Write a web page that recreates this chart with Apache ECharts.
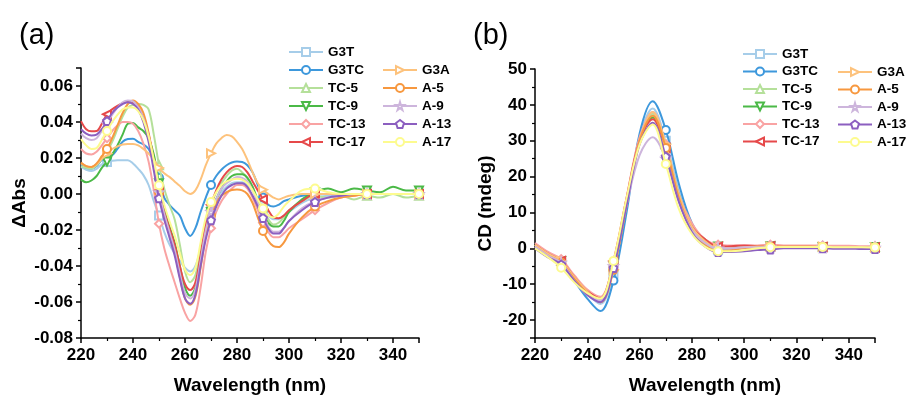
<!DOCTYPE html>
<html><head><meta charset="utf-8">
<script src="https://cdn.jsdelivr.net/npm/echarts@6/dist/echarts.min.js"></script>
<style>html,body{margin:0;padding:0;background:#fff}#c{width:908px;height:400px}</style>
</head><body><div id="c"></div>
<script>
// ---------- DATA ----------
const wavelengthA = [220,222,224,226,228,230,232,234,236,238,240,242,244,246,248,250,252,254,256,258,260,262,264,266,268,270,272,274,276,278,280,282,284,286,288,290,292,294,296,298,300,305,310,315,320,325,330,335,340,345,350];
const wavelengthB = [220,225,230,235,240,245,250,255,260,265,270,275,280,285,290,295,300,305,310,315,320,325,330,335,340,345,350];
const markerWavelengths = [230,250,270,290,310,330,350];
const seriesNames = ['G3T','G3TC','TC-5','TC-9','TC-13','TC-17','G3A','A-5','A-9','A-13','A-17'];
const legendCol1 = ['G3T','G3TC','TC-5','TC-9','TC-13','TC-17'];
const legendCol2 = ['G3A','A-5','A-9','A-13','A-17'];

// Panel (a): ΔAbs
const absG3T  = [0.015,0.0135,0.0128,0.014,0.0165,0.0178,0.0185,0.0188,0.0188,0.0188,0.017,0.014,0.0105,0.005,-0.004,-0.012,-0.021,-0.028,-0.033,-0.037,-0.041,-0.043,-0.040,-0.030,-0.018,-0.009,-0.003,0.001,0.004,0.006,0.0065,0.0065,0.005,0.002,-0.003,-0.008,-0.012,-0.014,-0.014,-0.012,-0.010,-0.005,-0.002,-0.001,0.000,0.000,0.000,0.000,0.000,0.000,0.000];
const absG3TC = [0.016,0.0145,0.014,0.0155,0.019,0.0205,0.0215,0.025,0.029,0.0305,0.0307,0.029,0.0275,0.025,0.019,0.009,-0.002,-0.006,-0.009,-0.012,-0.019,-0.0233,-0.019,-0.010,-0.002,0.005,0.010,0.0135,0.016,0.0175,0.018,0.0178,0.016,0.012,0.005,-0.002,-0.006,-0.007,-0.006,-0.004,-0.003,-0.001,0.000,0.000,0.000,0.000,0.000,0.000,0.000,0.000,0.000];
const absTC5  = [0.0155,0.0145,0.014,0.016,0.0195,0.0235,0.029,0.036,0.043,0.048,0.0495,0.050,0.0495,0.047,0.033,0.016,0.003,-0.006,-0.014,-0.028,-0.043,-0.049,-0.045,-0.032,-0.016,-0.006,0.001,0.006,0.010,0.013,0.014,0.012,0.009,0.004,-0.003,-0.009,-0.014,-0.017,-0.016,-0.013,-0.009,-0.004,-0.001,-0.002,-0.001,-0.003,-0.001,-0.002,0.000,-0.002,-0.001];
const absTC9  = [0.008,0.0065,0.0075,0.010,0.0145,0.018,0.022,0.027,0.033,0.039,0.0395,0.037,0.035,0.031,0.022,0.006,-0.008,-0.018,-0.027,-0.040,-0.052,-0.0565,-0.052,-0.036,-0.020,-0.010,-0.003,0.003,0.007,0.010,0.011,0.011,0.009,0.004,-0.004,-0.011,-0.016,-0.018,-0.018,-0.015,-0.010,-0.003,0.001,0.003,0.001,0.003,0.002,0.001,0.004,0.002,0.002];
const absTC13 = [0.025,0.0225,0.022,0.0235,0.027,0.031,0.035,0.038,0.040,0.040,0.039,0.035,0.028,0.018,0.002,-0.0165,-0.030,-0.040,-0.049,-0.058,-0.066,-0.0705,-0.067,-0.052,-0.032,-0.019,-0.010,-0.004,0.000,0.003,0.005,0.005,0.003,-0.002,-0.009,-0.016,-0.021,-0.024,-0.024,-0.022,-0.019,-0.014,-0.009,-0.005,-0.002,-0.001,0.000,0.000,0.000,0.000,0.000];
const absTC17 = [0.0405,0.036,0.0348,0.035,0.039,0.0443,0.047,0.049,0.0505,0.0515,0.051,0.048,0.042,0.033,0.018,0.002,-0.010,-0.019,-0.028,-0.040,-0.050,-0.0533,-0.049,-0.034,-0.016,-0.006,0.002,0.008,0.012,0.0145,0.0155,0.015,0.012,0.007,0.002,-0.003,-0.009,-0.013,-0.0135,-0.012,-0.009,-0.004,0.000,0.000,0.000,0.000,0.000,0.000,0.000,0.000,0.000];
const absG3A  = [0.017,0.0155,0.015,0.0165,0.0195,0.0225,0.025,0.0265,0.0275,0.0278,0.0278,0.027,0.025,0.0225,0.019,0.0145,0.0115,0.0095,0.007,0.0045,0.0015,0.000,0.002,0.008,0.016,0.0226,0.028,0.031,0.0328,0.032,0.029,0.025,0.019,0.012,0.006,0.0024,0.000,-0.002,-0.003,-0.002,-0.001,0.000,0.000,0.000,0.000,0.000,0.000,0.000,0.000,0.000,0.000];
const absA5   = [0.0175,0.0155,0.015,0.017,0.021,0.025,0.031,0.038,0.045,0.050,0.052,0.050,0.045,0.034,0.018,0.001,-0.012,-0.022,-0.032,-0.046,-0.058,-0.0615,-0.057,-0.041,-0.023,-0.012,-0.005,-0.001,0.001,0.0022,0.0025,0.002,0.000,-0.005,-0.013,-0.0205,-0.026,-0.029,-0.0295,-0.027,-0.022,-0.013,-0.007,-0.004,-0.002,-0.001,0.000,0.000,0.000,0.000,0.000];
const absA9   = [0.0335,0.031,0.030,0.031,0.035,0.039,0.044,0.048,0.051,0.052,0.0515,0.048,0.042,0.032,0.017,0.001,-0.011,-0.021,-0.031,-0.044,-0.055,-0.058,-0.053,-0.037,-0.020,-0.010,-0.003,0.003,0.006,0.008,0.0095,0.009,0.007,0.002,-0.005,-0.012,-0.018,-0.021,-0.021,-0.019,-0.015,-0.008,-0.004,-0.002,-0.001,0.000,0.000,0.000,0.000,0.000,0.000];
const absA13  = [0.036,0.0335,0.0325,0.033,0.036,0.0405,0.045,0.048,0.050,0.051,0.050,0.047,0.040,0.029,0.013,-0.0024,-0.014,-0.024,-0.034,-0.047,-0.058,-0.061,-0.056,-0.040,-0.025,-0.0146,-0.007,-0.001,0.003,0.005,0.006,0.006,0.004,-0.001,-0.007,-0.0133,-0.019,-0.022,-0.022,-0.019,-0.015,-0.009,-0.0044,-0.002,-0.001,0.000,0.000,0.000,0.000,0.000,0.000];
const absA17  = [0.0305,0.027,0.025,0.0255,0.030,0.035,0.040,0.044,0.047,0.048,0.048,0.046,0.041,0.032,0.019,0.0049,-0.006,-0.015,-0.023,-0.033,-0.042,-0.045,-0.041,-0.027,-0.013,-0.0045,0.001,0.005,0.007,0.008,0.0085,0.008,0.006,0.002,-0.003,-0.008,-0.012,-0.013,-0.011,-0.007,-0.004,0.002,0.003,0.001,0.000,0.000,0.000,0.000,0.000,0.000,0.000];

// Panel (b): CD (mdeg)
const cdG3T  = [1,-1.5,-3.5,-8,-12.5,-15.5,-7,12,31,39,30,16,6,1.5,-0.5,0,0.3,0.4,0.5,0.4,0.4,0.3,0.3,0.3,0.2,0.2,0.2];
const cdG3TC = [0.5,-2,-4,-9,-14,-17.5,-9,10,32,41,33,18,7,2,0,0,0.3,0.3,0.4,0.3,0.3,0.3,0.2,0.2,0.2,0.2,0.1];
const cdTC5  = [1,-1.5,-3.5,-8,-12,-14.5,-5,13,30,37.5,29,15,6,2,0,0.3,0.5,0.5,0.6,0.5,0.5,0.5,0.5,0.4,0.4,0.4,0.4];
const cdTC9  = [1,-1.5,-3.5,-8,-12,-14,-5,13,30,36.5,28,15,6,2.5,0.5,0.5,0.5,0.5,0.6,0.5,0.5,0.5,0.4,0.4,0.4,0.4,0.4];
const cdTC13 = [1.5,-1,-3,-7.5,-11.5,-13.5,-4,14,31,38,29,15,7,2.5,1,0.8,0.8,0.8,1,0.8,0.8,0.8,0.8,0.7,0.7,0.6,0.6];
const cdTC17 = [1,-1.5,-3.5,-8,-12,-14,-3.5,14,30,36,28,14,6,2.5,0.5,0.6,0.8,0.6,0.6,0.5,0.5,0.5,0.4,0.4,0.4,0.4,0.3];
const cdG3A  = [1,-1.5,-3.5,-8,-12,-15,-6,12,30,38,29,15,6,2,0,0,0.3,0.5,0.5,0.5,0.5,0.5,0.5,0.4,0.4,0.4,0.3];
const cdA5   = [0.5,-2,-4,-8.5,-12.5,-15,-6,12,30,37,28,14,5,1,-0.8,-0.5,0,0.2,0.3,0.3,0.3,0.3,0.2,0.2,0.2,0.2,0.1];
const cdA9   = [0.5,-2,-4,-9,-13,-14.5,-5,12,26,31,25,13,5,1.5,0,0,0.3,0.3,0.3,0.3,0.3,0.3,0.3,0.2,0.2,0.2,0.2];
const cdA13  = [0,-2.5,-4.5,-9,-13,-15,-5.5,12,29,35,25.6,13,4.5,0.5,-1,-1,-0.8,-0.5,-0.3,0,0,0,0,-0.1,-0.1,-0.2,-0.2];
const cdA17  = [0,-2.5,-5.4,-9.5,-12.5,-14,-3.5,14,29,34.5,23.5,11,4,0.5,-0.8,-0.8,-0.5,0,0.3,0.4,0.4,0.4,0.4,0.3,0.3,0.3,0.2];

const absData = [absG3T,absG3TC,absTC5,absTC9,absTC13,absTC17,absG3A,absA5,absA9,absA13,absA17];
const cdData  = [cdG3T,cdG3TC,cdTC5,cdTC9,cdTC13,cdTC17,cdG3A,cdA5,cdA9,cdA13,cdA17];

// ---------- STYLE ----------
const colors = ['#a6cde9','#3d98dc','#b5e09a','#4bb947','#f9a3a3','#e6494a','#fdc27c','#f7983f','#cdb5dc','#8c5fc0','#fdfb8f'];
const STAR = 'emptyPath://M50,0 L61,35 L98,35 L68,57 L79,91 L50,70 L21,91 L32,57 L2,35 L39,35 Z';
const PENT = 'emptyPath://M50,0 L98,35 L79,91 L21,91 L2,35 Z';
const symbols = ['emptyRect','emptyCircle','emptyTriangle','emptyTriangle','emptyDiamond','emptyTriangle','emptyTriangle','emptyCircle',STAR,PENT,'emptyCircle'];
const rotations = [0,0,0,180,0,90,-90,0,0,0,0];
const FONT = 'Liberation Sans, Arial, sans-serif';

function buildSeries(xs, ys, idx, axisIdx){
  return {
    type:'line', name: seriesNames[idx], xAxisIndex: axisIdx, yAxisIndex: axisIdx,
    data: xs.map((w,i)=> markerWavelengths.includes(w) ? {value:[w,ys[i]]} : {value:[w,ys[i]], symbol:'none'}),
    smooth: 0.35, symbol: symbols[idx], symbolRotate: rotations[idx], symbolSize: 8,
    showAllSymbol: true, color: colors[idx],
    lineStyle:{width:2, color: colors[idx]},
    itemStyle:{color: colors[idx], borderWidth:1.4},
    emphasis:{disabled:true}, animation:false, z: 2 + idx
  };
}

const series = [];
for (let i=0;i<seriesNames.length;i++) series.push(buildSeries(wavelengthA, absData[i], i, 0));
for (let i=0;i<seriesNames.length;i++) series.push(buildSeries(wavelengthB, cdData[i], i, 1));

const axisCommon = {
  axisLine:{show:true, onZero:false, lineStyle:{color:'#000', width:1.5}},
  axisTick:{show:true, inside:false, length:5, lineStyle:{color:'#000', width:1.5}},
  minorTick:{show:true, splitNumber:2, length:3, lineStyle:{color:'#000', width:1.2}},
  splitLine:{show:false},
  axisLabel:{color:'#000', fontWeight:'bold', fontSize:17, fontFamily:FONT},
  nameTextStyle:{color:'#000', fontWeight:'bold', fontSize:19, fontFamily:FONT}
};
function xAxis(grid){
  return Object.assign({}, axisCommon, {type:'value', gridIndex:grid, min:220, max:350, interval:20,
    name:'Wavelength (nm)', nameLocation:'middle', nameGap:38,
    axisLabel: Object.assign({}, axisCommon.axisLabel, {margin:9, showMaxLabel:false})});
}
function legend(data, left, top, gap){
  return {data, orient:'vertical', left, top, padding:0, itemWidth:34, itemHeight:10, itemGap:gap,
    selectedMode:false, textStyle:{fontWeight:'bold', fontSize:13.5, fontFamily:FONT, color:'#000', lineHeight:14}};
}

const option = {
  backgroundColor:'#fff', animation:false,
  title:[
    {text:'(a)', left:14, top:16, textStyle:{fontSize:29, fontWeight:'normal', fontFamily:FONT, color:'#000'}},
    {text:'(b)', left:468, top:16, textStyle:{fontSize:29, fontWeight:'normal', fontFamily:FONT, color:'#000'}}
  ],
  grid:[
    {left:81, top:68, width:338, height:274},
    {left:535, top:69, width:340, height:274}
  ],
  xAxis:[xAxis(0), xAxis(1)],
  yAxis:[
    Object.assign({}, axisCommon, {type:'value', gridIndex:0, min:-0.08, max:0.07, interval:0.02,
      name:'ΔAbs', nameLocation:'middle', nameGap:52,
      axisLabel: Object.assign({}, axisCommon.axisLabel, {margin:8, showMaxLabel:false, formatter:v=>v.toFixed(2)})}),
    Object.assign({}, axisCommon, {type:'value', gridIndex:1, min:-25, max:50, splitNumber:7,
      name:'CD (mdeg)', nameLocation:'middle', nameGap:40,
      axisLabel: Object.assign({}, axisCommon.axisLabel, {margin:8, showMinLabel:false})})
  ],
  legend:[
    legend(legendCol1, 288, 45, 4),
    legend(legendCol2, 382, 63, 4),
    legend(legendCol1, 742, 47, 3.5),
    legend(legendCol2, 837, 65, 3.5)
  ],
  series
};
const chart = echarts.init(document.getElementById('c'), null, {renderer:'canvas'});
chart.setOption(option);
</script></body></html>
